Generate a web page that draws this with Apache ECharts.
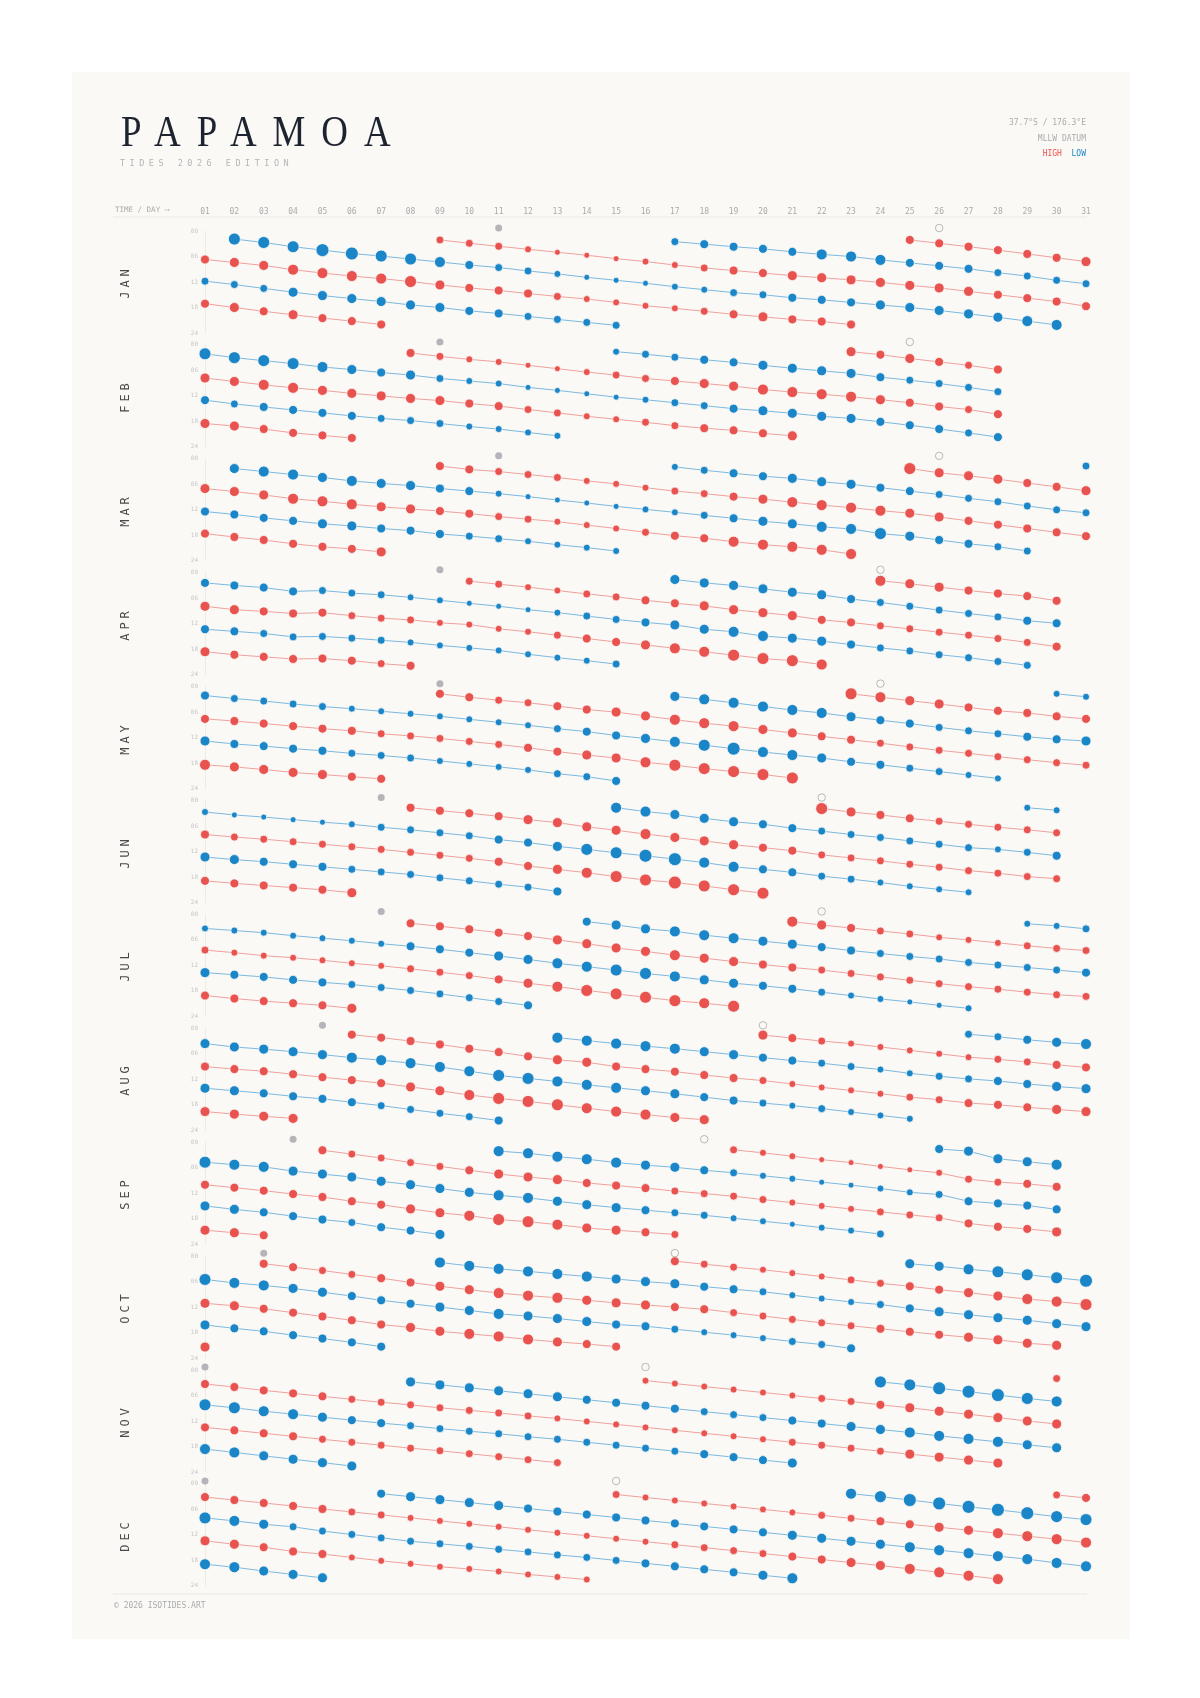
<!DOCTYPE html>
<html>
<head>
<meta charset="utf-8">
<title>Papamoa tides 2026</title>
<script src="https://cdn.jsdelivr.net/npm/echarts@6/dist/echarts.min.js"></script>
<style>
  html, body { margin: 0; padding: 0; background: #ffffff; }
  #page { position: relative; width: 1200px; height: 1698px; overflow: hidden; }
  #card { position: absolute; left: 72px; top: 72px; width: 1058px; height: 1567px; background: #faf9f6; }
  #chart { position: absolute; left: 0; top: 0; width: 1200px; height: 1698px; }
  .txt { position: absolute; white-space: nowrap; font-family: 'DejaVu Sans Mono', monospace; color: #ababab; }
  #title { left: 121px; top: 109px; font-family: 'Liberation Serif', serif; font-size: 45px; line-height: 45px; letter-spacing: 19.5px; color: #1e2330; transform: scaleX(0.82); transform-origin: 0 0; }
  #subtitle { left: 120px; top: 159px; font-size: 8.5px; line-height: 9px; letter-spacing: 4.5px; color: #b5b5b5; }
  .corner { right: 114px; font-size: 8px; line-height: 10px; text-align: right; }
  .month { font-size: 12px; line-height: 12px; letter-spacing: 4px; color: #4a4a4a; transform: translate(-50%, -50%) rotate(-90deg); }
</style>
</head>
<body>
<div id="page">
  <div id="card"></div>
  <div id="chart"></div>
  <div id="title" class="txt">PAPAMOA</div>
  <div id="subtitle" class="txt">TIDES 2026 EDITION</div>
  <div class="txt corner" style="top:118px">37.7°S / 176.3°E</div>
  <div class="txt corner" style="top:134px">MLLW DATUM</div>
  <div class="txt corner" style="top:149px"><span style="color:#e8534f">HIGH</span>&nbsp;&nbsp;<span style="color:#1a86c8">LOW</span></div>
  <div class="txt" style="left:115px;top:205px;font-size:7.5px;line-height:10px;">TIME / DAY ⟶</div>
  <div class="txt" style="left:114px;top:1601px;font-size:8px;line-height:10px;">© 2026 ISOTIDES.ART</div>
</div>
<script>
// tick labels
const DAY_LABELS = ['01','02','03','04','05','06','07','08','09','10','11','12','13','14','15','16','17','18','19','20','21','22','23','24','25','26','27','28','29','30','31'];
const MONTHS = ['JAN','FEB','MAR','APR','MAY','JUN','JUL','AUG','SEP','OCT','NOV','DEC'];

// moon phases: day of full moon (filled) and new moon (hollow)
const FULL_MOON = [11, 9, 11, 9, 9, 7, 7, 5, 4, 3, 1, 1];
const NEW_MOON = [26, 25, 26, 24, 24, 22, 22, 20, 18, 17, 16, 15];

// tracks: [H|L, first day, times (hours), heights (m)]
const JAN = [
  ['H', 1, [6.7,7.4,8.1,9.1,9.9,10.6,11.2,11.9,12.7,13.4,14.0,14.7,15.4,16.0,16.8,17.6,18.2,18.9,19.6,20.2,20.8,21.3,22.0], [1.7,1.8,1.8,1.9,1.9,1.9,1.9,2.0,1.8,1.7,1.7,1.7,1.6,1.5,1.5,1.5,1.5,1.6,1.7,1.8,1.7,1.7,1.7]],
  ['L', 1, [11.8,12.6,13.5,14.4,15.2,15.9,16.6,17.4,18.0,18.8,19.4,20.1,20.8,21.5,22.2], [0.6,0.6,0.6,0.4,0.4,0.4,0.4,0.4,0.4,0.5,0.5,0.6,0.6,0.6,0.6]],
  ['H', 1, [17.1,18.0,18.9,19.7,20.5,21.2,22.0], [1.7,1.8,1.7,1.8,1.7,1.7,1.7]],
  ['L', 2, [1.9,2.7,3.7,4.5,5.3,5.9,6.6,7.3,8.0,8.6,9.4,10.1,10.9,11.6,12.3,13.1,13.8,14.5,15.0,15.7,16.2,16.8,17.4,18.0,18.7,19.5,20.3,21.2,22.1], [0.2,0.2,0.2,0.1,0.1,0.2,0.2,0.3,0.5,0.6,0.6,0.7,0.8,0.8,0.8,0.7,0.7,0.6,0.6,0.5,0.5,0.5,0.4,0.4,0.4,0.4,0.4,0.3,0.3]],
  ['H', 9, [2.1,2.9,3.6,4.3,5.0,5.7,6.5,7.2,8.0,8.7,9.3,9.9,10.5,11.0,11.5,12.1,12.8,13.4,14.2,15.0,15.8,16.6,17.7], [1.6,1.6,1.6,1.5,1.4,1.4,1.4,1.5,1.5,1.6,1.7,1.7,1.8,1.8,1.8,1.8,1.8,1.8,1.8,1.7,1.7,1.7,1.7]],
  ['L', 17, [2.5,3.1,3.7,4.2,4.9,5.5,6.0,6.8,7.5,8.2,8.9,9.8,10.6,11.6,12.4], [0.6,0.5,0.5,0.5,0.5,0.3,0.3,0.3,0.5,0.5,0.5,0.6,0.6,0.6,0.6]],
  ['H', 25, [2.1,2.9,3.7,4.5,5.4,6.3,7.2], [1.7,1.7,1.7,1.7,1.7,1.7,1.8]]
];
const FEB = [
  ['L', 1, [2.1,3.0,3.7,4.4,5.2,5.8,6.5,7.1,7.9,8.5,9.1,10.0,10.7,11.5,12.3,12.9,13.6,14.3,15.0,15.5,16.1,16.8,17.3,18.1,18.9,19.8,20.7,21.7], [0.2,0.2,0.2,0.2,0.3,0.4,0.5,0.4,0.6,0.7,0.7,0.8,0.8,0.8,0.8,0.7,0.6,0.6,0.5,0.4,0.4,0.4,0.4,0.5,0.5,0.5,0.6,0.5]],
  ['H', 1, [7.8,8.6,9.4,10.1,10.7,11.4,12.0,12.6,13.1,13.8,14.4,15.2,16.0,16.8,17.5,18.2,19.0,19.6,20.1,20.8,21.4], [1.8,1.8,1.9,1.9,1.8,1.8,1.8,1.8,1.8,1.7,1.7,1.6,1.6,1.5,1.5,1.6,1.6,1.7,1.7,1.7,1.8]],
  ['L', 1, [13.0,13.9,14.6,15.3,16.0,16.7,17.3,17.8,18.5,19.2,19.8,20.6,21.4], [0.5,0.6,0.5,0.5,0.5,0.5,0.6,0.6,0.6,0.7,0.7,0.7,0.7]],
  ['H', 1, [18.5,19.1,19.8,20.7,21.3,21.9], [1.8,1.8,1.7,1.7,1.7,1.7]],
  ['H', 8, [1.9,2.7,3.4,4.0,4.8,5.6,6.4,7.1,7.9,8.5,9.1,9.7,10.5,11.1,11.6,12.2,12.9,13.6,14.5,15.2,16.3], [1.7,1.6,1.5,1.5,1.4,1.4,1.5,1.6,1.6,1.7,1.8,1.8,1.9,1.9,1.9,1.9,1.8,1.7,1.7,1.6,1.7]],
  ['L', 15, [1.6,2.2,2.9,3.5,4.1,4.8,5.5,6.1,6.7,7.6,8.3,9.1,10.0,11.0], [0.7,0.6,0.6,0.5,0.5,0.4,0.4,0.4,0.4,0.5,0.6,0.6,0.6,0.6]],
  ['H', 23, [1.6,2.3,3.2,4.0,4.8,5.8], [1.8,1.7,1.8,1.7,1.6,1.7]]
];
const MAR = [
  ['H', 1, [7.0,7.7,8.5,9.4,10.0,10.7,11.3,11.8,12.3,12.9,13.6,14.2,14.8,15.6,16.4,17.3,18.1,18.7,19.5,20.2,20.7,21.4,22.4], [1.8,1.8,1.8,1.9,1.9,1.9,1.8,1.8,1.7,1.7,1.6,1.6,1.5,1.5,1.5,1.6,1.7,1.7,1.9,1.9,1.9,1.9,1.9]],
  ['L', 1, [12.4,13.1,13.9,14.6,15.3,15.8,16.4,16.9,17.7,18.2,18.8,19.4,20.2,20.9,21.7], [0.5,0.5,0.5,0.5,0.4,0.4,0.5,0.5,0.5,0.6,0.6,0.7,0.7,0.7,0.7]],
  ['H', 1, [17.6,18.4,19.1,20.0,20.7,21.2,21.9], [1.7,1.7,1.7,1.7,1.7,1.7,1.8]],
  ['L', 2, [2.3,3.0,3.7,4.4,5.2,5.8,6.3,7.0,7.6,8.2,8.9,9.7,10.4,11.2,11.9,12.6,13.3,14.0,14.7,15.3,16.0,16.5,17.6,18.2,19.1,20.0,20.7,21.7], [0.4,0.3,0.3,0.4,0.3,0.4,0.4,0.5,0.5,0.7,0.8,0.8,0.8,0.8,0.7,0.7,0.6,0.5,0.4,0.4,0.3,0.3,0.2,0.4,0.5,0.5,0.6,0.6]],
  ['H', 9, [1.7,2.5,3.0,3.7,4.4,5.2,5.9,6.8,7.6,8.2,8.9,9.5,10.2,10.9,11.5,12.2,12.8,13.7,14.6,15.5,16.4,17.3,18.2], [1.7,1.7,1.6,1.6,1.6,1.5,1.5,1.5,1.6,1.6,1.7,1.8,1.9,1.9,1.9,1.9,1.8,1.8,1.7,1.7,1.7,1.7,1.7]],
  ['L', 17, [1.9,2.7,3.4,4.1,4.6,5.4,6.0,6.8,7.6,8.4,9.3,10.1,11.1,12.0,12.7], [0.7,0.6,0.5,0.5,0.4,0.4,0.4,0.5,0.5,0.6,0.6,0.6,0.6,0.6,0.6]],
  ['H', 25, [2.3,3.3,4.0,4.8,5.7,6.6,7.5], [2.0,1.8,1.8,1.8,1.7,1.7,1.8]],
  ['L', 31, [1.7], [0.6]]
];
const APR = [
  ['L', 1, [2.4,3.0,3.5,4.4,4.2,4.8,5.2,5.8,6.5,7.2,7.9,8.7,9.4,10.2,11.0,11.7,12.3,13.3,13.9,14.9,15.4,16.1,16.9,17.7,18.4,19.3,20.0,20.9,21.8], [0.5,0.5,0.5,0.5,0.6,0.6,0.6,0.7,0.7,0.8,0.8,0.8,0.7,0.6,0.6,0.5,0.4,0.4,0.3,0.3,0.4,0.4,0.5,0.6,0.6,0.6,0.6,0.6,0.6]],
  ['H', 1, [7.9,8.7,9.1,9.6,9.4,10.1,10.7,11.1,11.8,12.2,13.2,13.9,14.7,15.5,16.3,17.0,17.8,18.6,19.4,20.2,20.7,21.6], [1.8,1.8,1.7,1.7,1.7,1.6,1.6,1.6,1.5,1.5,1.5,1.5,1.6,1.7,1.7,1.8,1.9,1.9,2.0,2.0,2.0,1.9]],
  ['L', 1, [13.3,13.8,14.3,15.1,15.0,15.4,15.9,16.4,17.1,17.7,18.3,19.2,20.0,20.7,21.5], [0.5,0.5,0.6,0.6,0.6,0.6,0.6,0.7,0.7,0.7,0.7,0.7,0.7,0.7,0.6]],
  ['H', 1, [18.6,19.3,19.8,20.3,20.2,20.7,21.4,21.9], [1.8,1.7,1.7,1.7,1.7,1.7,1.6,1.7]],
  ['H', 10, [2.0,2.7,3.4,4.2,5.0,5.7,6.5,7.2,7.8,8.7,9.4,10.1,11.1,11.7,12.5,13.2,14.0,14.7,15.5,16.4,17.4], [1.6,1.6,1.5,1.5,1.6,1.6,1.7,1.7,1.8,1.8,1.8,1.8,1.7,1.7,1.6,1.6,1.6,1.6,1.6,1.6,1.7]],
  ['L', 17, [1.6,2.4,3.0,3.8,4.6,5.2,6.2,7.0,7.9,8.8,9.6,10.4,11.3,11.9], [0.4,0.4,0.4,0.4,0.4,0.4,0.5,0.6,0.6,0.6,0.6,0.6,0.5,0.5]],
  ['H', 24, [1.9,2.6,3.4,4.2,4.9,5.5,6.6], [1.9,1.8,1.8,1.7,1.7,1.7,1.7]]
];
const MAY = [
  ['L', 1, [2.1,2.8,3.4,4.1,4.7,5.2,5.8,6.4,7.0,7.7,8.4,9.1,9.9,10.6,11.5,12.2,13.0,13.8,14.6,15.4,16.1,16.8,17.7,18.4,19.2,20.0,20.8,21.6], [0.5,0.6,0.6,0.6,0.6,0.7,0.7,0.7,0.7,0.7,0.7,0.7,0.6,0.5,0.5,0.4,0.3,0.2,0.1,0.3,0.3,0.4,0.5,0.5,0.6,0.6,0.7,0.7]],
  ['H', 1, [7.6,8.1,8.7,9.3,9.9,10.4,11.1,11.6,12.2,12.9,13.6,14.4,15.3,16.1,16.8,17.8,18.5,19.3,20.0,20.7,21.5], [1.7,1.7,1.7,1.7,1.7,1.7,1.6,1.6,1.6,1.6,1.6,1.7,1.7,1.8,1.8,1.9,2.0,2.0,2.0,2.0,2.0]],
  ['L', 1, [12.8,13.5,14.0,14.6,15.1,15.7,16.2,16.8,17.5,18.2,18.9,19.6,20.5,21.2,22.2], [0.4,0.5,0.5,0.5,0.5,0.6,0.6,0.6,0.7,0.7,0.7,0.7,0.6,0.6,0.5]],
  ['H', 1, [18.4,18.9,19.5,20.2,20.7,21.2,21.7], [1.9,1.8,1.8,1.8,1.8,1.7,1.7]],
  ['H', 9, [1.7,2.5,3.2,3.8,4.6,5.4,6.0,6.9,7.8,8.6,9.3,10.1,10.9,11.7,12.5,13.3,14.2,15.0,15.7,16.5,17.2,17.9,18.5], [1.7,1.7,1.6,1.6,1.7,1.7,1.8,1.8,1.9,1.9,1.9,1.8,1.8,1.7,1.7,1.6,1.6,1.6,1.6,1.6,1.6,1.6,1.6]],
  ['L', 17, [2.3,3.0,3.8,4.7,5.5,6.2,7.1,7.9,8.7,9.6,10.4,11.1,11.8,12.4,12.8], [0.4,0.3,0.3,0.3,0.3,0.3,0.4,0.5,0.5,0.6,0.6,0.6,0.5,0.5,0.4]],
  ['H', 23, [1.7,2.5,3.3,4.1,4.9,5.7,6.2,7.0,7.6], [2.0,1.9,1.8,1.8,1.7,1.7,1.7,1.7,1.7]],
  ['L', 30, [1.7,2.4], [0.7,0.7]]
];
const JUN = [
  ['L', 1, [2.7,3.4,3.9,4.5,5.1,5.6,6.3,6.9,7.6,8.3,9.2,9.9,10.8,11.5,12.3,13.0,13.8,14.6,15.6,16.2,16.9,17.8,18.5,19.3,20.2,20.9,21.6], [0.7,0.8,0.8,0.8,0.8,0.7,0.6,0.6,0.6,0.6,0.5,0.5,0.4,0.2,0.2,0.1,0.1,0.3,0.3,0.5,0.5,0.6,0.6,0.7,0.7,0.7,0.7]],
  ['H', 1, [8.0,8.6,9.1,9.7,10.3,10.9,11.5,12.2,12.9,13.6,14.4,15.4,16.2,17.0,17.9,18.7,19.3,20.1,21.0,21.8], [1.7,1.6,1.6,1.6,1.6,1.6,1.6,1.6,1.6,1.6,1.7,1.7,1.8,1.9,2.0,2.0,2.1,2.0,2.0,2.0]],
  ['L', 1, [13.3,13.9,14.4,15.0,15.6,16.2,16.8,17.4,18.2,18.9,19.7,20.4,21.4], [0.4,0.4,0.5,0.5,0.5,0.6,0.6,0.6,0.6,0.6,0.6,0.6,0.5]],
  ['H', 1, [18.9,19.5,20.0,20.5,21.0,21.7], [1.7,1.7,1.7,1.7,1.7,1.8]],
  ['H', 8, [1.7,2.4,3.0,3.7,4.5,5.2,6.2,7.0,7.9,8.7,9.5,10.4,11.1,11.8,12.8,13.5,14.2,15.0,15.7,16.5,17.1,17.9,18.4], [1.7,1.7,1.7,1.7,1.8,1.8,1.8,1.8,1.9,1.8,1.8,1.8,1.7,1.7,1.6,1.6,1.6,1.6,1.6,1.6,1.6,1.6,1.6]],
  ['L', 15, [1.7,2.6,3.3,4.2,5.0,5.6,6.5,7.2,8.0,8.7,9.5,10.3,11.1,11.5,12.2,13.0], [0.3,0.3,0.4,0.4,0.4,0.5,0.5,0.6,0.6,0.6,0.6,0.6,0.6,0.7,0.6,0.5]],
  ['H', 22, [1.9,2.7,3.4,4.2,4.9,5.6,6.3,6.9,7.6], [2.0,1.8,1.7,1.7,1.6,1.6,1.6,1.6,1.6]],
  ['L', 29, [1.7,2.3], [0.7,0.7]]
];
const JUL = [
  ['L', 1, [3.3,3.8,4.3,5.0,5.6,6.2,6.9,7.5,8.2,9.0,9.8,10.6,11.5,12.3,13.1,13.9,14.6,15.4,16.2,16.8,17.5,18.3,19.1,19.9,20.6,21.4,22.1], [0.7,0.7,0.7,0.7,0.7,0.7,0.7,0.5,0.5,0.5,0.4,0.4,0.3,0.3,0.2,0.2,0.3,0.4,0.4,0.5,0.5,0.6,0.7,0.7,0.8,0.8,0.7]],
  ['H', 1, [8.4,9.0,9.7,10.2,10.8,11.5,12.1,12.8,13.6,14.4,15.3,16.2,17.0,17.9,18.7,19.5,20.3,20.9,21.6], [1.6,1.5,1.5,1.5,1.5,1.5,1.5,1.6,1.6,1.6,1.7,1.8,1.9,2.0,2.0,2.0,2.0,1.9,2.0]],
  ['L', 1, [13.7,14.2,14.7,15.4,16.0,16.5,17.2,17.9,18.7,19.6,20.5,21.4], [0.4,0.5,0.5,0.5,0.5,0.6,0.6,0.6,0.6,0.6,0.6,0.5]],
  ['H', 1, [19.1,19.8,20.4,20.9,21.4,22.1], [1.7,1.7,1.7,1.7,1.7,1.8]],
  ['H', 8, [2.1,2.8,3.5,4.3,5.1,6.0,6.9,7.9,8.7,9.6,10.3,11.1,11.8,12.5,13.1,13.9,14.7,15.5,16.3,17.0,17.6,18.3,18.9,19.3], [1.7,1.7,1.7,1.7,1.7,1.8,1.8,1.8,1.8,1.9,1.8,1.8,1.7,1.7,1.6,1.6,1.6,1.6,1.6,1.6,1.6,1.6,1.6,1.6]],
  ['L', 14, [1.7,2.5,3.4,4.0,4.9,5.6,6.3,7.0,7.7,8.5,9.2,9.9,10.5,11.3,11.9,12.5,13.1,13.7], [0.5,0.4,0.4,0.3,0.3,0.3,0.4,0.4,0.5,0.5,0.6,0.6,0.6,0.6,0.6,0.6,0.6,0.5]],
  ['H', 21, [1.7,2.5,3.2,3.9,4.6,5.4,6.0,6.7,7.4,8.0,8.5], [1.9,1.8,1.7,1.6,1.6,1.5,1.5,1.5,1.6,1.6,1.6]],
  ['L', 29, [2.2,2.7,3.4], [0.7,0.7,0.6]]
];
const AUG = [
  ['L', 1, [3.6,4.4,4.9,5.5,6.2,6.9,7.5,8.2,9.1,10.1,11.1,11.8,12.5,13.3,14.0,14.7,15.4,16.2,17.0,17.6,18.2,18.9,19.7,20.5,21.3], [0.4,0.4,0.4,0.4,0.4,0.3,0.3,0.3,0.3,0.3,0.2,0.2,0.3,0.3,0.3,0.4,0.4,0.5,0.5,0.6,0.7,0.6,0.7,0.7,0.7]],
  ['H', 1, [9.0,9.6,10.1,10.8,11.5,12.2,12.9,13.8,14.7,15.7,16.5,17.2,18.0,18.8,19.6,20.3,21.0,21.5], [1.7,1.7,1.7,1.7,1.7,1.7,1.7,1.8,1.8,1.9,2.0,2.0,2.0,1.9,1.9,1.9,1.8,1.8]],
  ['L', 1, [14.1,14.7,15.3,16.0,16.6,17.4,18.2,19.1,20.0,20.8,21.7], [0.4,0.4,0.5,0.5,0.5,0.5,0.6,0.6,0.6,0.6,0.5]],
  ['H', 1, [19.6,20.2,20.7,21.2], [1.8,1.8,1.8,1.8]],
  ['H', 6, [1.5,2.2,3.0,3.8,4.8,5.6,6.6,7.4,8.0,9.0,9.6,10.2,11.0,11.7,12.3,13.1,13.9,14.6,15.4,16.2,16.8,17.6,18.0,18.6,19.1,19.6], [1.7,1.7,1.7,1.7,1.7,1.7,1.7,1.8,1.8,1.7,1.7,1.7,1.7,1.7,1.6,1.5,1.5,1.5,1.5,1.6,1.6,1.7,1.7,1.7,1.8,1.8]],
  ['L', 13, [2.2,2.9,3.6,4.2,4.8,5.5,6.2,6.9,7.6,8.2,9.0,9.7,10.6,11.3,11.9,12.4,13.1,13.7,14.2], [0.3,0.3,0.3,0.3,0.3,0.4,0.4,0.5,0.5,0.6,0.6,0.7,0.7,0.6,0.6,0.5,0.5,0.4,0.4]],
  ['H', 20, [1.6,2.3,3.0,3.6,4.4,5.2,6.0,6.8,7.3,7.9,8.6,9.2], [1.8,1.7,1.6,1.5,1.5,1.5,1.5,1.5,1.6,1.6,1.7,1.7]],
  ['L', 27, [1.4,2.0,2.7,3.3,3.7], [0.6,0.6,0.5,0.4,0.3]]
];
const SEP = [
  ['L', 1, [4.7,5.3,5.8,6.8,7.5,8.2,9.2,10.0,10.9,11.8,12.5,13.1,13.9,14.7,15.4,16.0,16.6,17.2,17.9,18.6,19.3,20.1,20.8,21.6], [0.2,0.3,0.3,0.4,0.4,0.4,0.4,0.4,0.4,0.4,0.3,0.3,0.4,0.4,0.4,0.5,0.6,0.6,0.7,0.7,0.8,0.7,0.7,0.6]],
  ['H', 1, [10.0,10.7,11.4,12.2,12.9,13.9,14.7,15.7,16.6,17.3,18.2,18.7,19.4,20.2,20.7,21.2,21.7], [1.7,1.7,1.7,1.7,1.7,1.7,1.7,1.8,1.8,1.9,2.0,2.0,1.9,1.8,1.8,1.7,1.6]],
  ['L', 1, [15.0,15.8,16.5,17.4,18.2,18.9,20.0,20.8,21.7], [0.4,0.4,0.5,0.5,0.5,0.6,0.5,0.5,0.4]],
  ['H', 1, [20.7,21.3,21.9], [1.8,1.8,1.7]],
  ['H', 5, [1.9,2.8,3.7,4.8,5.7,6.6,7.5,8.2,8.8,9.6,10.2,10.8,11.5,12.1,12.7,13.5,14.2,15.0,15.7,16.4,17.1,17.8,19.1,19.9,20.4,21.1], [1.7,1.6,1.6,1.6,1.6,1.7,1.8,1.8,1.8,1.7,1.7,1.7,1.6,1.6,1.6,1.6,1.5,1.5,1.5,1.6,1.6,1.6,1.7,1.7,1.7,1.8]],
  ['L', 11, [2.1,2.6,3.4,4.0,4.8,5.4,5.9,6.6,7.2,7.9,8.6,9.4,10.1,10.9,11.8,12.3,13.9,14.4,14.9,15.8], [0.3,0.3,0.3,0.3,0.3,0.4,0.4,0.5,0.6,0.7,0.7,0.8,0.8,0.7,0.7,0.6,0.5,0.5,0.5,0.5]],
  ['H', 19, [1.8,2.5,3.3,4.1,4.8,5.7,6.5,7.2,8.7,9.4,9.8,10.5], [1.6,1.5,1.5,1.4,1.4,1.4,1.4,1.5,1.6,1.6,1.7,1.7]],
  ['L', 26, [1.6,2.1,3.9,4.6,5.3], [0.5,0.4,0.4,0.4,0.3]]
];
const OCT = [
  ['L', 1, [5.5,6.3,6.9,7.6,8.5,9.4,10.4,11.2,12.0,12.8,13.6,14.1,14.7,15.4,16.1,16.5,17.2,17.9,18.6,19.3,20.1,20.8,21.7], [0.2,0.3,0.3,0.4,0.4,0.5,0.5,0.5,0.4,0.4,0.3,0.4,0.4,0.4,0.5,0.5,0.6,0.7,0.7,0.7,0.6,0.6,0.5]],
  ['H', 1, [11.1,11.7,12.4,13.3,14.2,15.1,16.1,16.8,17.7,18.3,18.9,19.6,20.2,20.7,21.3], [1.8,1.8,1.7,1.7,1.7,1.7,1.7,1.8,1.8,1.9,1.9,1.9,1.8,1.7,1.7]],
  ['L', 1, [16.2,17.0,17.7,18.6,19.4,20.3,21.3], [0.4,0.5,0.5,0.5,0.5,0.5,0.5]],
  ['H', 1, [21.4], [1.8]],
  ['H', 3, [1.8,2.6,3.4,4.3,5.2,6.2,7.1,7.9,8.7,9.3,9.8,10.4,11.0,11.5,12.0,12.5,13.3,14.1,14.9,15.7,16.4,17.1,17.8,18.5,19.1,19.7,20.5,21.0], [1.7,1.7,1.6,1.6,1.7,1.7,1.8,1.8,1.9,1.9,1.9,1.8,1.8,1.8,1.7,1.7,1.6,1.6,1.6,1.6,1.6,1.7,1.7,1.7,1.8,1.8,1.8,1.8]],
  ['L', 9, [1.5,2.3,3.0,3.6,4.2,4.8,5.4,6.0,6.5,7.2,7.8,8.4,9.2,10.0,10.8,11.4,12.3,13.1,13.8,14.5,15.1,15.9,16.6], [0.3,0.3,0.3,0.3,0.3,0.3,0.4,0.4,0.4,0.5,0.5,0.6,0.7,0.7,0.7,0.6,0.5,0.4,0.4,0.4,0.4,0.4,0.4]],
  ['H', 17, [1.2,1.9,2.6,3.2,4.0,4.8,5.6,6.4,7.1,7.9,8.6,9.4,10.1,10.7,11.4], [1.7,1.6,1.6,1.5,1.5,1.5,1.6,1.6,1.7,1.7,1.8,1.8,1.9,1.9,2.0]],
  ['L', 25, [1.8,2.4,3.1,3.7,4.4,5.1,5.8], [0.4,0.4,0.3,0.2,0.2,0.2,0.1]]
];
const NOV = [
  ['H', 1, [3.3,4.0,4.8,5.5,6.2,6.9,7.6,8.2,8.9,9.5,10.1,10.8,11.4,12.1,12.8,13.5,14.2,14.9,15.6,16.3,17.0,17.7,18.4,19.1,19.8,20.5,21.2,21.9], [1.7,1.7,1.7,1.7,1.7,1.6,1.6,1.6,1.6,1.6,1.6,1.6,1.5,1.5,1.5,1.5,1.5,1.5,1.5,1.5,1.6,1.6,1.6,1.6,1.8,1.8,1.8,1.8]],
  ['L', 1, [8.2,8.9,9.7,10.4,11.1,11.8,12.5,13.1,13.8,14.4,15.0,15.7,16.3,17.0,17.7,18.4,19.1,19.8,20.5,21.2,21.9], [0.2,0.2,0.3,0.3,0.4,0.5,0.5,0.6,0.6,0.6,0.6,0.6,0.6,0.6,0.6,0.6,0.6,0.5,0.5,0.5,0.4]],
  ['H', 1, [13.5,14.2,14.9,15.6,16.3,17.0,17.7,18.4,19.0,19.7,20.4,21.1,21.8], [1.7,1.7,1.7,1.7,1.6,1.6,1.6,1.6,1.6,1.6,1.6,1.6,1.6]],
  ['L', 1, [18.6,19.4,20.2,21.0,21.8,22.6], [0.3,0.3,0.4,0.4,0.4,0.4]],
  ['L', 8, [2.8,3.5,4.2,4.9,5.6,6.3,7.0,7.7,8.4,9.1,9.8,10.5,11.2,11.9,12.6,13.3,14.0,14.7,15.5,16.2,16.9,17.6,18.3], [0.4,0.4,0.4,0.4,0.4,0.4,0.5,0.5,0.5,0.5,0.6,0.6,0.6,0.5,0.5,0.4,0.4,0.3,0.3,0.3,0.3,0.4,0.4]],
  ['H', 16, [2.5,3.2,3.9,4.6,5.3,6.0,6.7,7.4,8.2,8.9,9.7,10.4,11.2,12.0,12.7], [1.5,1.5,1.5,1.5,1.5,1.5,1.6,1.6,1.7,1.8,1.8,1.8,1.8,1.8,1.8]],
  ['L', 24, [2.8,3.5,4.3,5.1,5.9,6.7,7.4], [0.2,0.2,0.1,0.1,0.1,0.2,0.3]],
  ['H', 30, [2.0], [1.6]]
];
const DEC = [
  ['H', 1, [3.1,3.8,4.5,5.2,5.9,6.6,7.3,8.0,8.7,9.4,10.1,10.8,11.5,12.2,12.9,13.6,14.3,15.0,15.7,16.4,17.1,17.8,18.5,19.2,20.0,20.8,21.6,22.4], [1.7,1.7,1.7,1.7,1.7,1.6,1.6,1.5,1.5,1.5,1.5,1.5,1.5,1.5,1.5,1.5,1.6,1.6,1.6,1.6,1.7,1.7,1.8,1.8,1.9,1.9,1.9,1.9]],
  ['L', 1, [8.0,8.7,9.5,10.1,11.1,11.9,12.7,13.5,14.1,14.7,15.4,16.0,16.7,17.3,18.0,18.7,19.4,20.1,20.8,21.5,22.2], [0.2,0.3,0.4,0.6,0.6,0.6,0.6,0.6,0.6,0.6,0.6,0.6,0.6,0.6,0.6,0.5,0.5,0.5,0.5,0.4,0.3]],
  ['H', 1, [13.4,14.2,14.9,15.9,16.5,17.3,18.1,18.8,19.5,20.0,20.6,21.3,21.9,22.5], [1.8,1.8,1.7,1.7,1.7,1.5,1.5,1.5,1.5,1.5,1.5,1.5,1.5,1.5]],
  ['L', 1, [18.9,19.6,20.5,21.3,22.1], [0.3,0.3,0.4,0.4,0.4]],
  ['L', 7, [2.3,3.0,3.7,4.4,5.1,5.8,6.5,7.2,7.9,8.6,9.3,10.0,10.7,11.4,12.1,12.8,13.5,14.2,14.9,15.6,16.3,17.0,17.7,18.6,19.4], [0.5,0.4,0.4,0.4,0.4,0.5,0.5,0.5,0.5,0.5,0.5,0.5,0.5,0.5,0.4,0.4,0.4,0.4,0.3,0.3,0.3,0.3,0.3,0.3,0.3]],
  ['H', 15, [2.5,3.2,3.9,4.6,5.3,6.0,6.7,7.4,8.1,8.8,9.5,10.2,10.9,11.6,12.3,13.0,13.8], [1.6,1.5,1.5,1.5,1.5,1.5,1.5,1.6,1.6,1.7,1.7,1.8,1.8,1.9,1.9,1.9,1.9]],
  ['L', 23, [2.3,3.0,3.8,4.6,5.4,6.1,6.9,7.7,8.4], [0.3,0.2,0.1,0.1,0.1,0.1,0.1,0.2,0.2]],
  ['H', 30, [2.6,3.3], [1.6,1.7]]
];
const TRACKS = [JAN, FEB, MAR, APR, MAY, JUN, JUL, AUG, SEP, OCT, NOV, DEC];

(function () {
  const RED = '#e8534f', BLUE = '#1a86c8';
  const RED_LINE = '#f0a09c', BLUE_LINE = '#7cb8df';
  const BG = '#faf9f6';
  const TOP0 = 231, STEP = 113.9, PANEL_H = 102;

  // dot size grows with how extreme the tide is
  const highSize = (h) => 6 + (h - 1.4) * 10;
  const lowSize = (h) => 6 + (0.8 - h) * 10;

  const chart = echarts.init(document.getElementById('chart'));
  const grids = [], xAxes = [], yAxes = [], series = [];

  MONTHS.forEach((name, i) => {
    const top = TOP0 + i * STEP;
    grids.push({ left: 205, top: top, width: 881, height: PANEL_H });
    xAxes.push({ type: 'value', gridIndex: i, min: 1, max: 31, show: false });
    yAxes.push({
      type: 'value', gridIndex: i, min: 0, max: 24, interval: 6, inverse: true,
      axisLine: { show: true, lineStyle: { color: '#ecebe6', width: 1 } },
      axisTick: { show: false }, splitLine: { show: false },
      axisLabel: { fontSize: 6, color: '#c6c6c6', margin: 7, fontFamily: 'DejaVu Sans Mono',
        formatter: (v) => String(v).padStart(2, '0') }
    });

    const highs = [], lows = [];
    TRACKS[i].forEach((tr) => {
      const [kind, d0, times, heights] = tr;
      const pts = times.map((t, k) => [d0 + k, t, heights[k]]);
      (kind === 'H' ? highs : lows).push(...pts);
      if (pts.length > 1) {
        series.push({
          type: 'line', xAxisIndex: i, yAxisIndex: i, data: pts.map(p => [p[0], p[1]]),
          symbol: 'none', silent: true, z: 2,
          lineStyle: { color: kind === 'H' ? RED_LINE : BLUE_LINE, width: 1 }
        });
      }
    });
    series.push({
      type: 'scatter', xAxisIndex: i, yAxisIndex: i, data: highs, z: 3, clip: false,
      symbolSize: (v) => highSize(v[2]),
      itemStyle: { color: RED, borderColor: BG, borderWidth: 0.8, opacity: 1 }
    });
    series.push({
      type: 'scatter', xAxisIndex: i, yAxisIndex: i, data: lows, z: 3, clip: false,
      symbolSize: (v) => lowSize(v[2]),
      itemStyle: { color: BLUE, borderColor: BG, borderWidth: 0.8, opacity: 1 }
    });
    series.push({
      type: 'scatter', xAxisIndex: i, yAxisIndex: i, data: [[FULL_MOON[i], -0.7]], z: 4, clip: false,
      symbolSize: 7, itemStyle: { color: '#a2a3aa' }
    });
    series.push({
      type: 'scatter', xAxisIndex: i, yAxisIndex: i, data: [[NEW_MOON[i], -0.7]], z: 4, clip: false,
      symbolSize: 7.5, itemStyle: { color: BG, borderColor: '#a9a9a9', borderWidth: 1 }
    });
  });

  // day header along the top of the first month
  xAxes.push({
    type: 'value', gridIndex: 0, position: 'top', offset: 9, min: 1, max: 31, interval: 1,
    axisLine: { show: false }, axisTick: { show: false }, splitLine: { show: false },
    axisLabel: { color: '#ababab', fontSize: 8, fontFamily: 'DejaVu Sans Mono', margin: 6,
      formatter: (v) => DAY_LABELS[v - 1] }
  });

  const graphics = [
    { type: 'line', shape: { x1: 113, y1: 217, x2: 1087, y2: 217 }, style: { stroke: '#ebe9e4', lineWidth: 1 } },
    { type: 'line', shape: { x1: 113, y1: 1594, x2: 1087, y2: 1594 }, style: { stroke: '#ebe9e4', lineWidth: 1 } }
  ];

  chart.setOption({
    animation: false,
    backgroundColor: 'transparent',
    grid: grids, xAxis: xAxes, yAxis: yAxes, series: series, graphic: graphics
  });

  // rotated month names
  const page = document.getElementById('page');
  MONTHS.forEach((name, i) => {
    const el = document.createElement('div');
    el.className = 'txt month';
    el.textContent = name;
    el.style.left = '125px';
    el.style.top = (TOP0 + i * STEP + PANEL_H / 2) + 'px';
    page.appendChild(el);
  });
})();
</script>
</body>
</html>
